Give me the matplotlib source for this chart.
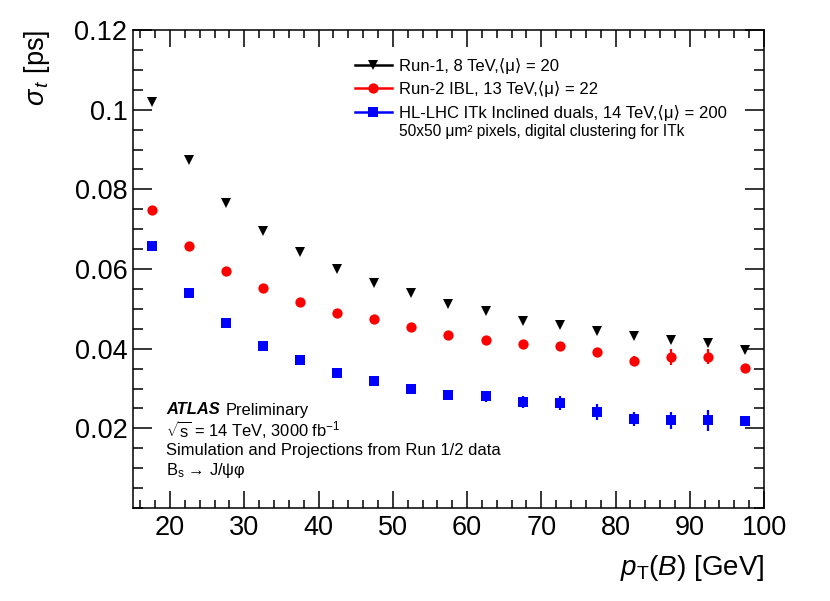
import matplotlib
matplotlib.use("Agg")
import matplotlib.pyplot as plt
from matplotlib.lines import Line2D
from matplotlib.ticker import MultipleLocator
import numpy as np

plt.rcParams['font.family'] = ['Liberation Sans', 'DejaVu Sans']
plt.rcParams['mathtext.fontset'] = 'custom'
plt.rcParams['mathtext.rm'] = 'Liberation Sans'
plt.rcParams['mathtext.it'] = 'Liberation Sans:italic'
plt.rcParams['mathtext.bf'] = 'Liberation Sans:bold'

# Data
pt = [17.5, 22.5, 27.5, 32.5, 37.5, 42.5, 47.5, 52.5, 57.5, 62.5, 67.5, 72.5, 77.5, 82.5, 87.5, 92.5, 97.5]
run1 = [0.1019, 0.0874, 0.0766, 0.0695, 0.0643, 0.0600, 0.0565, 0.0540, 0.0512, 0.0495, 0.0470, 0.0459, 0.0444, 0.0432, 0.0422, 0.0414, 0.0397]
run1_err = [0.0003] * 17
run2 = [0.0748, 0.0658, 0.0595, 0.0552, 0.0517, 0.0490, 0.0474, 0.0454, 0.0435, 0.0421, 0.0412, 0.0407, 0.0391, 0.0370, 0.0380, 0.0380, 0.0351]
run2_err = [0.0004, 0.0004, 0.0004, 0.0005, 0.0005, 0.0005, 0.0006, 0.0006, 0.0007, 0.0007, 0.0008, 0.0009, 0.0010, 0.0011, 0.0020, 0.0018, 0.0010]
itk = [0.0658, 0.0540, 0.0464, 0.0407, 0.0372, 0.0339, 0.0319, 0.0299, 0.0284, 0.0280, 0.0267, 0.0264, 0.0241, 0.0223, 0.0220, 0.0220, 0.0219]
itk_err = [0.0004, 0.0004, 0.0004, 0.0005, 0.0005, 0.0006, 0.0006, 0.0007, 0.0008, 0.0014, 0.0015, 0.0018, 0.0020, 0.0018, 0.0022, 0.0026, 0.0010]

labels = ["Run-1, 8 TeV,\u27e8\u03bc\u27e9 = 20",
          "Run-2 IBL, 13 TeV,\u27e8\u03bc\u27e9 = 22",
          "HL-LHC ITk Inclined duals, 14 TeV,\u27e8\u03bc\u27e9 = 200"]
colors = ['black', '#ff0000', '#0000ff']
markers = ['v', 'o', 's']

fig = plt.figure(figsize=(8.30, 6.01), dpi=100)
ax = fig.add_axes([0.1602, 0.1547, 0.7603, 0.7953])

series = [(run1, run1_err), (run2, run2_err), (itk, itk_err)]
for (vals, errs), c, m in zip(series, colors, markers):
    ax.errorbar(pt, vals, yerr=errs, fmt=m, color=c, ms=7.4, elinewidth=1.6,
                capsize=0, mew=0)

ax.set_xlim(15, 100)
ax.set_ylim(0, 0.12)
ax.xaxis.set_minor_locator(MultipleLocator(2))
ax.yaxis.set_minor_locator(MultipleLocator(0.005))
ax.set_xticks([20, 30, 40, 50, 60, 70, 80, 90, 100])
ax.set_xticklabels(['20', '30', '40', '50', '60', '70', '80', '90', '100'])
ax.set_yticks([0.02, 0.04, 0.06, 0.08, 0.1, 0.12])
ax.set_yticklabels(['0.02', '0.04', '0.06', '0.08', '0.1', '0.12'])
ax.tick_params(which='both', direction='in', top=True, right=True, width=1.1,
               labelsize=19.5)
ax.tick_params(axis='y', which='major', length=13.5, pad=4)
ax.tick_params(axis='y', which='minor', length=7)
ax.tick_params(axis='x', which='major', length=12.5, pad=5)
ax.tick_params(axis='x', which='minor', length=6)
for s in ax.spines.values():
    s.set_linewidth(1.1)

ax.set_xlabel(r"$p_{\mathrm{T}}(B)$ [GeV]", fontsize=20, loc='right', labelpad=9)
ax.set_ylabel(r"$\sigma_{\,t}$ [ps]", fontsize=19.5, loc='top', labelpad=16)

handles = [Line2D([], [], color=c, marker=m, ms=7.4, lw=1.8, mew=0)
           for c, m in zip(colors, markers)]
leg = ax.legend(handles, labels, loc='upper left', bbox_to_anchor=(355 / 830, 1 - 58 / 601),
                bbox_transform=fig.transFigure, frameon=False, fontsize=12,
                handlelength=2.2, handletextpad=0.45, labelspacing=0.44,
                borderpad=0, borderaxespad=0)
fig.text(399 / 830, 1 - 131.5 / 601, "50x50 \u03bcm\u00b2 pixels, digital clustering for ITk",
         fontsize=11.2, va='center', ha='left')

# ATLAS label
fs = 11.9
t = fig.text(166 / 830, 1 - 410 / 601, "ATLAS", fontsize=fs, fontweight='bold',
             style='italic', va='center', ha='left')
fig.canvas.draw()
bb = t.get_window_extent()
fig.text((bb.x1 + 6) / 830, 1 - 410 / 601, "Preliminary", fontsize=fs, va='center', ha='left')
fig.text(166 / 830, 1 - 430 / 601, r"$\sqrt{\mathrm{s}}$ = 14 TeV, 3000 fb$^{\mathrm{-1}}$",
         fontsize=fs, va='center', ha='left')
fig.text(166 / 830, 1 - 450 / 601, "Simulation and Projections from Run 1/2 data",
         fontsize=fs, va='center', ha='left')
fig.text(166 / 830, 1 - 471 / 601, "B$_{\\mathrm{s}}$ \u2192 J/\u03c8\u03c6",
         fontsize=fs, va='center', ha='left')

fig.savefig("out.png", dpi=100)
